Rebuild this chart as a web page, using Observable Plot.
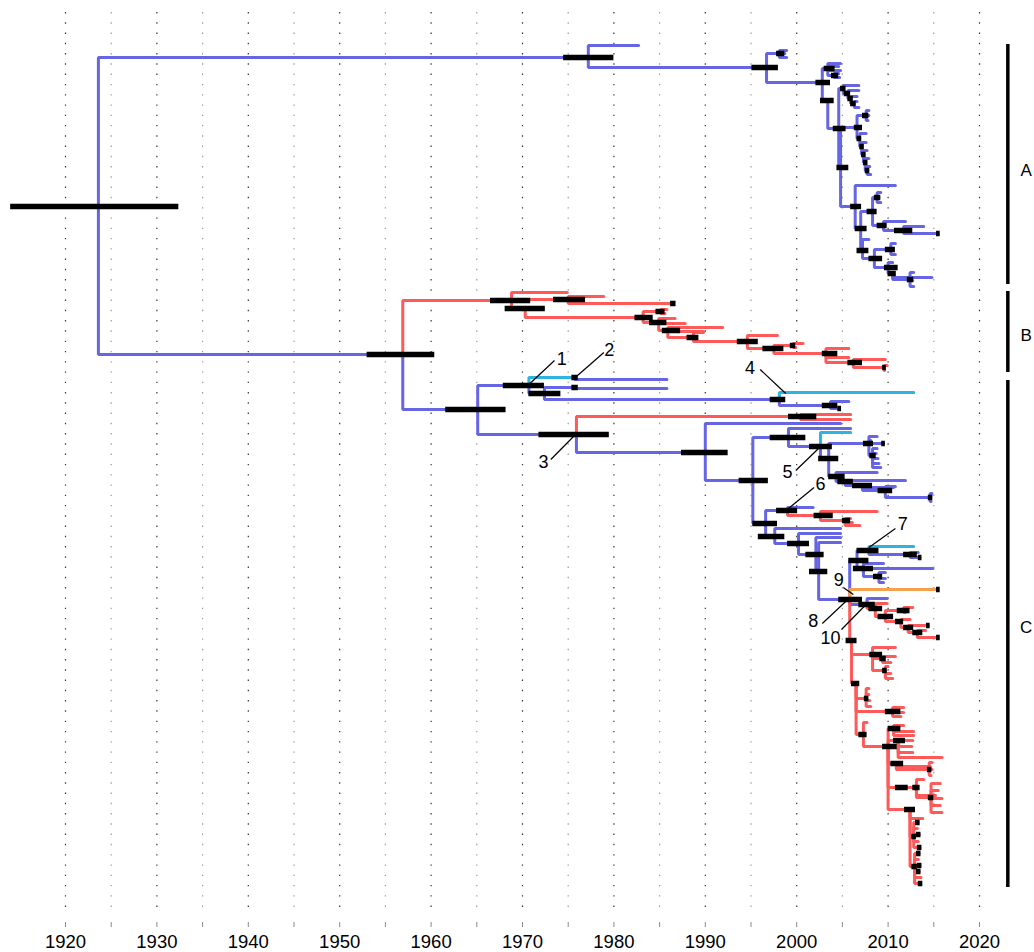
<!DOCTYPE html>
<html><head><meta charset="utf-8">
<script src="https://cdn.jsdelivr.net/npm/d3@7"></script>
<script src="https://cdn.jsdelivr.net/npm/@observablehq/plot@0.6"></script>
<style>body{margin:0;background:#fff;} #chart{width:1034px;height:952px;}</style>
</head><body><div id="chart"></div>
<script>
// branch colour codes
const colorCodes = {b: "#6666e4", r: "#ff5a5a", c: "#2fb3e1", o: "#f5a04c"};

// nodes: [id, parent, date (year), row, colour of branch, HPD low, HPD high]
const backbone = [
  ["R", null, 1923.6, 206, "b", 1914.0, 1932.4],
  ["A0", "R", 1977.2, 57, "b", 1974.5, 1980.0],
  ["BC", "R", 1956.9, 354, "b", 1953.0, 1960.4]
];

const cladeA = [
  ["a1","A0",1982.7,45,"b"],
  ["A1","A0",1996.7,67,"b",1995.1,1998.0],
  ["A2","A1",1998.1,53,"b",1997.8,1998.7],
  ["a2","A2",1998.9,50,"b"],
  ["a3","A2",1998.7,53,"b"],
  ["a4","A2",1998.9,57,"b"],
  ["A3","A1",2002.8,82,"b",2002.1,2003.7],
  ["A4","A3",2003.4,68,"b",2003.0,2004.2],
  ["a5","A4",2004.8,63,"b"],
  ["a6","A4",2004.6,66,"b"],
  ["a7","A4",2004.8,70,"b"],
  ["A4b","A4",2004.1,75,"b",2003.8,2004.6],
  ["a8","A4b",2004.6,73,"b"],
  ["a9","A4b",2004.7,77,"b"],
  ["A5","A3",2003.4,100,"b",2002.6,2004.1],
  ["AB","A5",2004.6,128,"b",2004.0,2005.4],
  ["AL1","AB",2005.1,88,"b",2004.8,2005.4],
  ["a10","AL1",2006.8,85,"b"],
  ["AL2","AL1",2005.6,93,"b",2005.2,2005.9],
  ["a11","AL2",2006.8,90,"b"],
  ["AL3","AL2",2005.9,98,"b",2005.6,2006.2],
  ["a12","AL3",2006.6,96,"b"],
  ["AL4","AL3",2006.3,103,"b",2005.9,2006.5],
  ["a13","AL4",2006.6,101,"b"],
  ["a14","AL4",2006.8,107,"b"],
  ["AC","AB",2004.8,167,"b",2004.4,2005.7],
  ["AD","AC",2006.6,127,"b",2006.3,2007.2],
  ["AD1","AD",2007.6,115,"b",2007.2,2007.9],
  ["a15","AD1",2007.9,110,"b"],
  ["a16","AD1",2007.9,115,"b"],
  ["a17","AD1",2007.8,120,"b"],
  ["AD2","AD",2006.9,138,"b",2006.6,2007.1],
  ["a18","AD2",2007.6,133,"b"],
  ["AD3","AD2",2007.1,146,"b",2006.9,2007.4],
  ["a19","AD3",2007.6,142,"b"],
  ["AD4","AD3",2007.3,154,"b",2007.1,2007.6],
  ["a20","AD4",2007.7,150,"b"],
  ["AD5","AD4",2007.5,162,"b",2007.3,2007.8],
  ["a21","AD5",2007.9,158,"b"],
  ["AD6","AD5",2007.7,170,"b",2007.5,2008.0],
  ["a22","AD6",2008.0,166,"b"],
  ["a23","AD6",2008.1,174,"b"],
  ["AE","AC",2006.4,206,"b",2005.9,2007.1],
  ["a24","AE",2010.8,185,"b"],
  ["AF","AE",2007.0,228,"b",2006.4,2007.7],
  ["AG","AF",2008.3,211,"b",2007.7,2008.8],
  ["AG1","AG",2008.8,197,"b",2008.5,2009.2],
  ["a25","AG1",2009.2,192,"b"],
  ["a26","AG1",2009.0,197,"b"],
  ["a27","AG1",2009.2,202,"b"],
  ["AG2","AG",2009.5,225,"b",2008.8,2009.9],
  ["a28","AG2",2011.9,221,"b"],
  ["AG3","AG2",2011.7,230,"b",2010.7,2012.7],
  ["a29","AG3",2013.9,226,"b"],
  ["a30","AG3",2015.5,233,"b",2015.3,2015.7],
  ["AH","AF",2007.2,250,"b",2006.6,2007.9],
  ["a31","AH",2007.9,239,"b"],
  ["AI","AH",2008.5,258,"b",2007.9,2009.4],
  ["AJ","AI",2010.3,249,"b",2009.7,2010.8],
  ["a32","AJ",2010.8,243,"b"],
  ["a33","AJ",2010.6,248,"b"],
  ["a34","AJ",2010.8,254,"b"],
  ["AK","AI",2010.0,267,"b",2009.6,2011.1],
  ["a35","AK",2010.5,262,"b"],
  ["AK2","AK",2010.5,273,"b",2010.0,2010.9],
  ["a36","AK2",2014.8,277,"b"],
  ["AK3","AK2",2012.4,279,"b",2012.1,2012.8],
  ["a37","AK3",2012.8,272,"b"],
  ["a38","AK3",2012.7,280,"b"],
  ["a39","AK3",2012.8,286,"b"]
];

const cladeB = [
  ["B0","BC",1968.8,300,"r",1966.5,1970.9],
  ["b1","B0",1974.9,292,"r"],
  ["B2","B0",1975.0,299,"r",1973.4,1976.9],
  ["b2","B2",1978.9,296,"r"],
  ["b3","B2",1986.5,303,"r",1986.2,1986.8],
  ["B1","B0",1970.3,308,"r",1968.1,1972.5],
  ["B3","B1",1983.2,317,"r",1982.3,1984.3],
  ["B4","B3",1985.1,311,"r",1984.6,1985.6],
  ["b4","B4",1985.8,309,"r"],
  ["b5","B4",1985.6,313,"r"],
  ["B5","B3",1984.9,322,"r",1983.9,1985.8],
  ["b6","B5",1986.7,318,"r"],
  ["b7","B5",1987.8,323,"r"],
  ["B6","B5",1985.9,330,"r",1985.3,1987.3],
  ["b8","B6",1991.9,327,"r"],
  ["b9","B6",1989.8,331,"r"],
  ["B7","B6",1988.7,337,"r",1988.0,1989.3],
  ["b10","B7",1989.8,332,"r"],
  ["B8","B7",1994.6,341,"r",1993.5,1995.8],
  ["b11","B8",1997.9,335,"r"],
  ["B9","B8",1997.5,348,"r",1996.3,1998.6],
  ["B9a","B9",1999.6,345,"r",1999.3,1999.9],
  ["b12","B9a",2000.7,343,"r"],
  ["b13","B9a",1999.9,347,"r"],
  ["B10","B9",2003.2,353,"r",2002.8,2004.5],
  ["b14","B10",2005.7,348,"r"],
  ["b15","B10",2005.7,357,"r"],
  ["B11","B10",2006.2,362,"r",2005.6,2007.2],
  ["b16","B11",2009.7,359,"r"],
  ["B12","B11",2009.6,367,"r",2009.4,2009.8],
  ["b17","B12",2009.9,365,"r"],
  ["b18","B12",2009.6,370,"r"]
];

const cladeC = [
  ["C0","BC",1965.1,409,"b",1961.6,1968.2],
  ["C1","C0",1970.7,385,"b",1967.9,1972.4],
  ["N2","C1",1975.7,377,"c",1975.4,1976.1],
  ["c1","N2",1985.8,379,"b"],
  ["C1b","C1",1972.4,393,"b",1970.7,1974.2],
  ["N2b","C1b",1975.7,387,"b",1975.4,1976.1],
  ["c2","N2b",1985.8,388,"b"],
  ["N4","C1b",1998.1,399,"b",1997.1,1998.8],
  ["c3","N4",2012.8,392,"c"],
  ["N4b","N4",2003.7,405,"b",2002.8,2004.5],
  ["c4","N4b",2005.7,401,"b"],
  ["c5","N4b",2004.7,408,"b",2004.5,2004.9],
  ["C2","C0",1975.9,434,"b",1971.8,1979.5],
  ["C3","C2",2000.4,416,"r",1999.1,2002.2],
  ["c6","C3",2005.9,414,"r"],
  ["c7","C3",2005.9,419,"r"],
  ["C4","C2",1990.0,452,"b",1987.4,1992.5],
  ["c8","C4",2004.8,423,"b"],
  ["C5","C4",1995.2,480,"b",1993.7,1996.9],
  ["C6","C5",1999.1,437,"b",1997.1,2001.0],
  ["c9","C6",2005.9,428,"b"],
  ["C7","C6",2002.6,446,"b",2001.4,2003.9],
  ["c10","C7",2005.9,432,"c"],
  ["C7b","C7",2003.5,458,"b",2002.4,2004.6],
  ["C8","C7b",2007.9,443,"b",2007.3,2008.4],
  ["c11","C8",2008.8,436,"b"],
  ["c12","C8",2008.1,440,"b"],
  ["c13","C8",2009.5,443,"b",2009.3,2009.7],
  ["C8b","C8",2008.3,455,"b",2008.0,2008.7],
  ["c14","C8b",2008.8,448,"b"],
  ["c15","C8b",2008.7,453,"b"],
  ["c16","C8b",2008.9,458,"b"],
  ["c17","C8b",2009.0,463,"b"],
  ["c18","C8b",2009.2,467,"b"],
  ["C9","C7b",2004.3,476,"b",2003.5,2005.3],
  ["c19","C9",2008.8,472,"b"],
  ["C9b","C9",2005.3,481,"b",2004.5,2006.2],
  ["c20","C9b",2011.9,480,"b"],
  ["C9c","C9b",2007.2,485,"b",2006.1,2008.3],
  ["c21","C9c",2010.6,487,"b"],
  ["C9d","C9c",2009.7,490,"b",2008.9,2010.5],
  ["c22","C9d",2010.8,486,"b"],
  ["C9e","C9d",2014.6,497,"b",2014.4,2014.9],
  ["c23","C9e",2014.8,493,"b"],
  ["c24","C9e",2014.7,501,"b"],
  ["C10","C5",1996.6,523,"b",1995.2,1997.9],
  ["C11","C10",1999.0,510,"b",1997.8,2000.1],
  ["c25","C11",2001.8,507,"b"],
  ["C12","C11",2002.6,515,"r",2001.9,2004.0],
  ["c26","C12",2008.8,511,"r"],
  ["C12b","C12",2005.3,520,"r",2005.0,2005.9],
  ["c27","C12b",2005.9,518,"r"],
  ["c28","C12b",2006.1,522,"r"],
  ["c29","C12b",2006.9,525,"r"],
  ["C13","C10",1997.6,536,"b",1995.8,1998.7],
  ["c30","C13",2004.8,528,"b"],
  ["C14","C13",2000.2,543,"b",1999.0,2001.4],
  ["c31","C14",2004.8,533,"b"],
  ["C15","C14",2002.1,554,"b",2001.0,2003.0],
  ["c32","C15",2004.8,537,"b"],
  ["C16","C15",2002.4,571,"b",2001.4,2003.4],
  ["c33","C16",2004.8,542,"b"],
  ["C17","C16",2005.8,599,"b",2004.6,2007.2],
  ["G7","C17",2006.6,560,"b",2005.7,2007.9],
  ["N7","G7",2007.9,550,"b",2006.6,2009.0],
  ["c34","N7",2012.8,546,"c"],
  ["N7b","N7",2012.4,554,"b",2011.7,2013.2],
  ["c35","N7b",2013.3,552,"b"],
  ["c36","N7b",2013.5,557,"b",2013.3,2013.7],
  ["G7b","G7",2007.3,568,"b",2006.2,2008.4],
  ["c37","G7b",2009.5,563,"b"],
  ["c38","G7b",2014.9,568,"b"],
  ["G7c","G7b",2009.0,576,"b",2008.4,2009.4],
  ["c39","G7c",2009.7,572,"b"],
  ["c40","G7c",2009.7,578,"b"],
  ["c41","G7c",2009.5,582,"b"],
  ["c42","C17",2015.4,589,"o",2015.3,2015.7],
  ["N10","C17",2007.7,604,"b",2006.8,2008.6],
  ["c43","N10",2009.9,598,"b"],
  ["L1","N10",2008.6,608,"r",2007.9,2009.4],
  ["c44","L1",2009.9,603,"r"],
  ["L2","L1",2009.7,616,"r",2008.9,2010.6],
  ["L2a","L2",2011.7,610,"r",2011.0,2012.4],
  ["c45","L2a",2012.7,607,"r"],
  ["c46","L2a",2011.9,612,"r"],
  ["L3","L2",2011.4,621,"r",2010.8,2011.7],
  ["c47","L3",2012.4,619,"r"],
  ["L4","L3",2012.2,627,"r",2011.7,2012.8],
  ["c48","L4",2014.4,625,"r",2014.2,2014.6],
  ["L5","L4",2013.2,632,"r",2012.7,2013.8],
  ["c49","L5",2014.1,630,"r"],
  ["c50","L5",2015.5,637,"r",2015.3,2015.7],
  ["RT0","C17",2006.0,640,"r",2005.4,2006.6],
  ["RT1","RT0",2008.3,654,"r",2008.0,2009.4],
  ["c51","RT1",2010.8,647,"r"],
  ["RT1a","RT1",2009.4,658,"r",2009.1,2009.8],
  ["c52","RT1a",2010.8,656,"r"],
  ["c53","RT1a",2010.3,662,"r"],
  ["RT1b","RT1",2009.7,670,"r",2009.4,2009.9],
  ["c54","RT1b",2010.0,666,"r"],
  ["c55","RT1b",2010.3,673,"r"],
  ["c56","RT1b",2010.5,678,"r"],
  ["RT2","RT0",2006.5,683,"r",2006.0,2006.9],
  ["RT3","RT2",2007.6,698,"r",2007.4,2007.9],
  ["c57","RT3",2007.9,688,"r"],
  ["c58","RT3",2007.9,694,"r"],
  ["c59","RT3",2008.0,700,"r"],
  ["c60","RT3",2008.1,706,"r"],
  ["RT5","RT2",2010.5,711,"r",2009.7,2011.4],
  ["c61","RT5",2011.7,707,"r"],
  ["c62","RT5",2011.7,712,"r"],
  ["c63","RT5",2011.4,716,"r"],
  ["RT4","RT2",2007.3,734,"r",2006.8,2007.7],
  ["c64","RT4",2007.7,722,"r"],
  ["RT6","RT4",2010.0,746,"r",2009.4,2011.0],
  ["RT7","RT6",2010.6,728,"r",2010.0,2011.4],
  ["c65","RT7",2011.7,725,"r"],
  ["c66","RT7",2012.8,731,"r"],
  ["c67","RT7",2012.8,735,"r"],
  ["RT8","RT6",2011.1,740,"r",2010.6,2011.9],
  ["c68","RT8",2012.7,740,"r"],
  ["c69","RT8",2012.6,746,"r"],
  ["c70","RT8",2012.7,752,"r"],
  ["c71","RT8",2015.9,757,"r"],
  ["RT9","RT6",2010.9,763,"r",2010.3,2011.7],
  ["c72","RT9",2014.6,766,"r"],
  ["RT9a","RT9",2014.5,769,"r",2014.3,2014.8],
  ["c73","RT9a",2014.8,762,"r"],
  ["c74","RT9a",2014.8,769,"r"],
  ["c75","RT9a",2014.7,775,"r"],
  ["RT10","RT6",2011.6,787,"r",2010.8,2012.2],
  ["RT10a","RT10",2013.1,787,"r",2012.7,2013.5],
  ["c76","RT10a",2013.9,779,"r"],
  ["c77","RT10a",2015.2,795,"r"],
  ["RT10b","RT10a",2014.7,797,"r",2014.4,2015.0],
  ["c78","RT10b",2015.7,783,"r"],
  ["c79","RT10b",2015.5,790,"r"],
  ["c80","RT10b",2015.9,798,"r"],
  ["c81","RT10b",2015.7,805,"r"],
  ["c82","RT10b",2015.9,812,"r"],
  ["RT11","RT6",2012.4,809,"r",2011.8,2013.0],
  ["c83","RT11",2013.8,818,"r"],
  ["RT12","RT11",2012.8,836,"r",2012.6,2013.1],
  ["c84","RT12",2013.3,822,"r",2013.0,2013.5],
  ["c85","RT12",2013.2,828,"r"],
  ["c86","RT12",2013.4,834,"r",2013.1,2013.6],
  ["c87","RT12",2013.3,841,"r"],
  ["c88","RT12",2013.5,847,"r",2013.2,2013.7],
  ["RT13","RT11",2012.9,866,"r",2012.6,2013.2],
  ["c89","RT13",2013.4,853,"r",2013.1,2013.6],
  ["c90","RT13",2013.3,859,"r"],
  ["c91","RT13",2013.5,865,"r",2013.2,2013.7],
  ["c92","RT13",2013.4,871,"r",2013.1,2013.6],
  ["c93","RT13",2013.6,877,"r"],
  ["c94","RT13",2013.5,883,"r",2013.3,2013.8]
];

// axis / grid
const gridYears = [1920,1925,1930,1935,1940,1945,1950,1955,1960,1965,1970,1975,1980,1985,1990,1995,2000,2005,2010,2015,2020];
const tickLabels = ["1920","","1930","","1940","","1950","","1960","","1970","","1980","","1990","","2000","","2010","","2020"];

// clade bars
const cladeNames = ["A", "B", "C"];
const cladeTop = [44, 291, 380];
const cladeBottom = [284, 372, 887];
const cladeLabelRow = [170, 335, 627];
const cladeBarYear = 2023.1;
const cladeLabelYear = 2025.1;

// numbered annotations
const annLabels = ["1","2","3","4","5","6","7","8","9","10"];
const annTextX  = [1974.3,1979.5,1972.3,1994.9,1999.0,2002.6,2011.6,2001.8,2004.6,2003.7];
const annTextY  = [359,350,462,368,472,484,524,621,580,638];
const annX1 = [1973.5,1978.9,1973.1,1996.0,1999.9,2001.9,2010.8,2002.8,2005.1,2004.9];
const annY1 = [360,352,459,369,470,487,528,623,587,629];
const annX2 = [1970.7,1975.9,1975.8,1998.8,2002.5,1999.1,2007.9,2005.6,2006.2,2007.7];
const annY2 = [384,376,434,393,447,508,547,599,594,603];

const nodes = [...backbone, ...cladeA, ...cladeB, ...cladeC].map(([id, parent, year, row, code, lo, hi]) =>
  ({id, parent, year, row, code, color: colorCodes[code], lo, hi}));
const byId = new Map(nodes.map(d => [d.id, d]));
const children = nodes.filter(d => d.parent).sort((a, b) => (a.code === "b" ? 0 : 1) - (b.code === "b" ? 0 : 1));
const branchPts = [];
for (const d of children) {
  const p = byId.get(d.parent);
  branchPts.push({id: d.id, x: p.year, y: p.row, color: d.color});
  branchPts.push({id: d.id, x: p.year, y: d.row, color: d.color});
  branchPts.push({id: d.id, x: d.year, y: d.row, color: d.color});
}
const hpd = nodes.filter(d => d.lo != null);
const clades = cladeNames.map((n, i) => ({name: n, top: cladeTop[i], bottom: cladeBottom[i], mid: cladeLabelRow[i]}));
const anns = annLabels.map((t, i) => ({t, tx: annTextX[i], ty: annTextY[i], x1: annX1[i], y1: annY1[i], x2: annX2[i], y2: annY2[i]}));
const ticks = gridYears.map((y, i) => ({year: y, label: tickLabels[i]}));

const chart = Plot.plot({
  width: 1034, height: 952,
  marginLeft: 65, marginRight: 55, marginTop: 0, marginBottom: 30,
  x: {domain: [1920, 2020], axis: null},
  y: {domain: [0, 922], range: [0, 922], axis: null},
  color: {type: "identity"},
  style: {fontFamily: "'Liberation Sans', Arial, sans-serif", fontSize: "18px", background: "#fff", overflow: "visible"},
  marks: [
    Plot.ruleX(gridYears, {x: d => d, y1: 12, y2: 912, stroke: d => d % 10 === 0 ? "#333" : "#9a9a9a", strokeWidth: 1.2, strokeDasharray: "1.4,8.87"}),
    Plot.ruleX(ticks, {x: "year", y1: 922, y2: 927, stroke: "#8a8a8a", strokeWidth: 1}),
    Plot.text(ticks, {x: "year", y: 942, text: "label", fontSize: 18.5, fill: "#000"}),
    Plot.line(branchPts, {x: "x", y: "y", z: "id", stroke: "color", strokeWidth: 3, strokeLinejoin: "miter", curve: "linear"}),
    Plot.ruleY(hpd, {y: "row", x1: "lo", x2: "hi", stroke: "#000", strokeWidth: 5.5}),
    Plot.ruleX(clades, {x: cladeBarYear, y1: "top", y2: "bottom", stroke: "#000", strokeWidth: 3.5}),
    Plot.text(clades, {x: cladeLabelYear, y: "mid", text: "name", fontSize: 17, fill: "#000"}),
    Plot.link(anns, {x1: "x1", y1: "y1", x2: "x2", y2: "y2", stroke: "#000", strokeWidth: 1.2}),
    Plot.text(anns, {x: "tx", y: "ty", text: "t", fontSize: 18, fill: "#000"})
  ]
});
document.getElementById("chart").appendChild(chart);
</script>
</body></html>
